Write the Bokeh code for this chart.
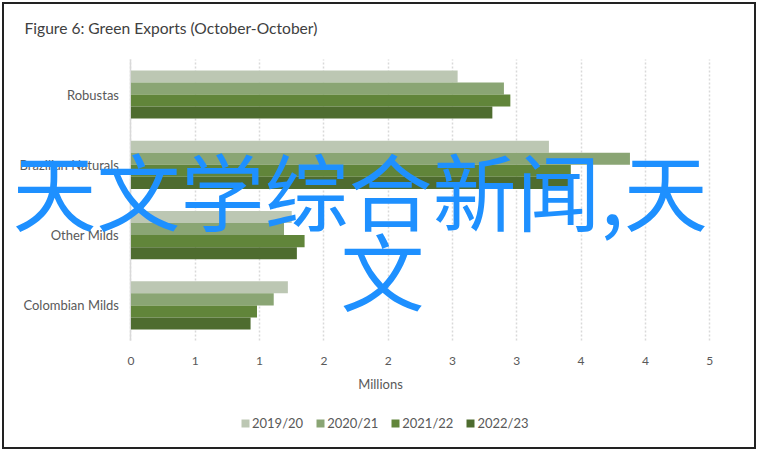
from bokeh.plotting import figure
from bokeh.models import (ColumnDataSource, Range1d, FixedTicker, Label, Legend, LegendItem, Grid)
from bokeh.core.properties import value
from bokeh.transform import dodge
from bokeh.embed import file_html
from bokeh.resources import INLINE

# ---- data ----
categories = ["Robustas", "Brazilian Naturals", "Other Milds", "Colombian Milds"]
series_names = ["2019/20", "2020/21", "2021/22", "2022/23"]
exports_2019_20 = [2.54, 3.25, 1.25, 1.22]
exports_2020_21 = [2.90, 3.88, 1.19, 1.11]
exports_2021_22 = [2.95, 3.42, 1.35, 0.98]
exports_2022_23 = [2.81, 3.41, 1.29, 0.93]
x_tick_values = [0, 0.5, 1.0, 1.5, 2.0, 2.5, 3.0, 3.5, 4.0, 4.5]
x_tick_labels = ["0", "1", "1", "2", "2", "3", "3", "4", "4", "5"]
x_axis_title = "Millions"
title_text = "Figure 6: Green Exports (October-October)"
overlay_line1 = "天文学综合新闻,天"
overlay_line2 = "文"

# ---- style ----
colors = ["#BCC7B3", "#8AA574", "#61853A", "#4E6C2F"]
offsets = [0.257, 0.0857, -0.0857, -0.257]
FONT = "Lato"
TXT = "#595959"

series_values = [exports_2019_20, exports_2020_21, exports_2021_22, exports_2022_23]
cols = ["s0", "s1", "s2", "s3"]
data = {"cat": categories, "pos": [-i for i in range(len(categories))]}
for c, v in zip(cols, series_values):
    data[c] = v
src = ColumnDataSource(data)

W, H = 754, 447
p = figure(
    width=W, height=H, title=None,
    x_range=Range1d(-0.999, 4.864),
    y_range=Range1d(-4.794, 1.309),
    y_axis_location=None,
    output_backend="svg", toolbar_location=None,
    min_border_left=0, min_border_right=0, min_border_top=0, min_border_bottom=18,
    background_fill_color=None, border_fill_color=None,
)
p.styles = {"margin": "2px", "background-color": "white",
            "box-shadow": "inset 0 0 0 2px #222222"}
p.outline_line_color = None

renderers = []
for c, off, col in zip(cols, offsets, colors):
    r = p.hbar(y=dodge("pos", off), left=0, right=c, height=0.171,
               source=src, fill_color=col, line_color=None)
    renderers.append(r)

# category labels
p.text(x=0, y="pos", text="cat", source=src, x_offset=-12,
       text_align="right", text_baseline="middle",
       text_font=value(FONT), text_font_size="13px", text_color=TXT)

# x axis, drawn just under the plot area
p.xaxis.fixed_location = -3.74
p.xaxis.ticker = FixedTicker(ticks=x_tick_values)
p.xaxis.major_label_overrides = {v: l for v, l in zip(x_tick_values, x_tick_labels)}
p.xaxis.axis_line_color = None
p.xaxis.major_tick_line_color = None
p.xaxis.minor_tick_line_color = None
p.xaxis.major_tick_out = 0
p.xaxis.major_label_text_font = FONT
p.xaxis.major_label_text_font_size = "12px"
p.xaxis.major_label_text_color = TXT
p.xaxis.major_label_standoff = 0

p.xgrid.ticker = FixedTicker(ticks=x_tick_values)
p.xgrid.cross_bounds = (-3.5, 0.5)
p.xgrid.grid_line_color = "#D9D9D9"
p.xgrid.grid_line_dash = "2 2"
p.xgrid.grid_line_width = 1.5
p.ygrid.grid_line_color = None

# solid category-axis line at x = 0
p.add_layout(Grid(dimension=0, ticker=FixedTicker(ticks=[0]), cross_bounds=(-3.5, 0.5),
                  grid_line_color="#D9D9D9", grid_line_width=1.5))

# axis title
p.add_layout(Label(x=378, y=381, x_units="canvas", y_units="canvas", text=x_axis_title,
                   text_font=FONT, text_font_size="13px", text_color=TXT,
                   text_align="center", text_baseline="alphabetic", level="overlay"))

# legend
leg = Legend(items=[LegendItem(label=n, renderers=[r]) for n, r in zip(series_names, renderers)],
             orientation="horizontal", location=(238, 0),
             border_line_color=None, background_fill_alpha=0,
             padding=0, margin=0, spacing=12,
             glyph_width=10, glyph_height=10, label_standoff=2,
             label_text_font=FONT, label_text_font_size="13px", label_text_color=TXT,
             label_height=14)
p.add_layout(leg)

# title
p.add_layout(Label(x=22, y=25, x_units="canvas", y_units="canvas", text=title_text,
                   text_font=FONT, text_font_size="15.6px", text_color="#404040",
                   text_baseline="alphabetic", level="overlay"))

# overlay text
p.add_layout(Label(x=10, y=186, x_units="canvas", y_units="canvas", text=overlay_line1,
                   text_font="Noto Sans CJK SC", text_font_size="84px",
                   text_color="#1E90FF", text_baseline="alphabetic", level="overlay"))
p.add_layout(Label(x=338, y=266, x_units="canvas", y_units="canvas", text=overlay_line2,
                   text_font="Noto Sans CJK SC", text_font_size="84px",
                   text_color="#1E90FF", text_baseline="alphabetic", level="overlay"))

open("out.html", "w").write(file_html(p, INLINE))
